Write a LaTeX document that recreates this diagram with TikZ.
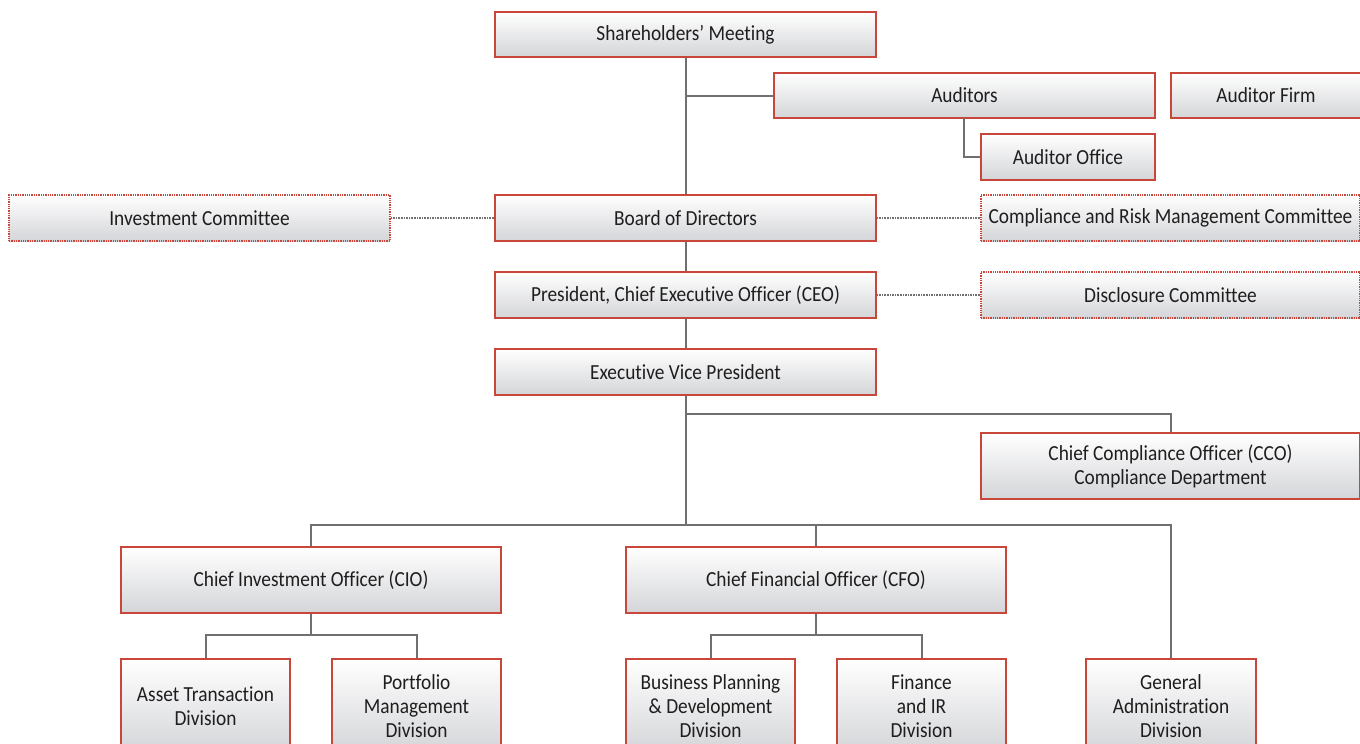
\documentclass[tikz,border=0pt]{standalone}
\usepackage{fontspec}
\setmainfont{Carlito}[FakeStretch=0.9, Ligatures=NoCommon]
\usetikzlibrary{positioning}
\definecolor{boxred}{RGB}{200,70,58}
\definecolor{linegray}{RGB}{112,112,112}
\definecolor{txt}{RGB}{30,30,30}
\definecolor{boxbottom}{RGB}{212,213,216}
\tikzset{
  box/.style={draw=boxred, line width=1.3pt, rectangle, top color=white, bottom color=boxbottom,
    text=txt, align=center, inner sep=0pt, font=\fontsize{21.5}{24}\selectfont,
    execute at begin node={\vspace*{5pt}}},
  dbox/.style={box, densely dotted},
  conn/.style={draw=linegray, line width=2pt},
  dconn/.style={draw=linegray, line width=1.6pt, densely dotted},
}
\begin{document}
\begin{tikzpicture}[x=1pt,y=-1pt]
\useasboundingbox (0,0) rectangle (1360,744);
\clip (0,0) rectangle (1360,744);
% nodes
\node[box, minimum width=381, minimum height=45] (sh) at (685.5,34.5) {Shareholders’ Meeting};
\node[box, minimum width=381, minimum height=45] (aud) at (964.5,95.5) {Auditors};
\node[box, minimum width=190, minimum height=45] (firm) at (1266,95.5) {Auditor Firm};
\node[box, minimum width=174, minimum height=46] (office) at (1068,157) {Auditor Office};
\node[dbox, minimum width=381, minimum height=46] (inv) at (199.5,218) {Investment Committee};
\node[box, minimum width=381, minimum height=46] (bod) at (685.5,218) {Board of Directors};
\node[dbox, minimum width=379, minimum height=46] (crm) at (1170.5,218) {Compliance and Risk Management Committee};
\node[box, minimum width=381, minimum height=46] (ceo) at (685.5,295) {President, Chief Executive Officer (CEO)};
\node[dbox, minimum width=379, minimum height=46] (disc) at (1170.5,295) {Disclosure Committee};
\node[box, minimum width=381, minimum height=46] (evp) at (685.5,372) {Executive Vice President};
\node[box, minimum width=379, minimum height=66] (cco) at (1170.5,466) {Chief Compliance Officer (CCO)\\Compliance Department};
\node[box, minimum width=380, minimum height=66] (cio) at (311,580) {Chief Investment Officer (CIO)};
\node[box, minimum width=380, minimum height=66] (cfo) at (816,580) {Chief Financial Officer (CFO)};
\node[box, minimum width=169, minimum height=94] (atd) at (205.5,706) {Asset Transaction\\Division};
\node[box, minimum width=169, minimum height=94] (pmd) at (416.5,706) {Portfolio\\Management\\Division};
\node[box, minimum width=169, minimum height=94] (bpd) at (710.5,706) {Business Planning\\\& Development\\Division};
\node[box, minimum width=169, minimum height=94] (fir) at (921.5,706) {Finance\\and IR\\Division};
\node[box, minimum width=170, minimum height=94] (gad) at (1171,706) {General\\Administration\\Division};
% connectors
\draw[conn] (sh.south) -- (bod.north);
\draw[conn] (sh.south |- aud.west) -- (aud.west);
\draw[conn] (964,118) |- (office.west);
\draw[conn] (bod.south) -- (ceo.north);
\draw[conn] (ceo.south) -- (evp.north);
\draw[dconn] (inv.east) -- (bod.west);
\draw[dconn] (bod.east) -- (crm.west);
\draw[dconn] (ceo.east) -- (disc.west);
\coordinate (hub) at (685.5,525);
\draw[conn] (evp.south) -- (hub);
\draw[conn] (685.5,414) -| (cco.north);
\draw[conn] (cio.north) |- (hub) -| (gad.north);
\draw[conn] (cfo.north) -- (cfo.north |- hub);
\coordinate (cioj) at (311,635);
\coordinate (cfoj) at (816,635);
\draw[conn] (cio.south) -- (cioj) -| (atd.north);
\draw[conn] (cioj) -| (pmd.north);
\draw[conn] (cfo.south) -- (cfoj) -| (bpd.north);
\draw[conn] (cfoj) -| (fir.north);
\end{tikzpicture}
\end{document}
